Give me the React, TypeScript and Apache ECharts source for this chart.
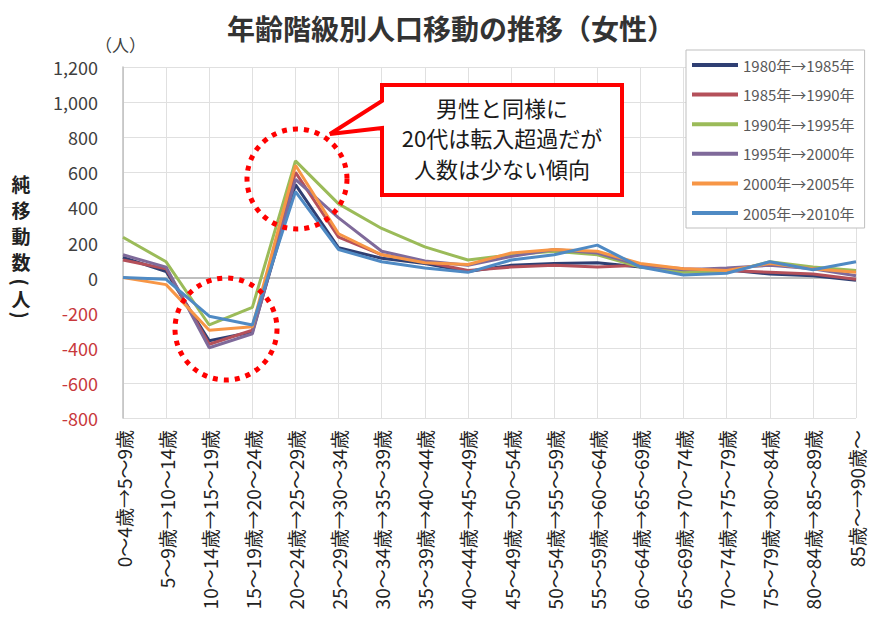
import React, { useEffect, useRef } from "react";
import * as echarts from "echarts";

const categories = [
  "0～4歳→5～9歳",
  "5～9歳→10～14歳",
  "10～14歳→15～19歳",
  "15～19歳→20～24歳",
  "20～24歳→25～29歳",
  "25～29歳→30～34歳",
  "30～34歳→35～39歳",
  "35～39歳→40～44歳",
  "40～44歳→45～49歳",
  "45～49歳→50～54歳",
  "50～54歳→55～59歳",
  "55～59歳→60～64歳",
  "60～64歳→65～69歳",
  "65～69歳→70～74歳",
  "70～74歳→75～79歳",
  "75～79歳→80～84歳",
  "80～84歳→85～89歳",
  "85歳～→90歳～",
];

const seriesNames = [
  "1980年→1985年",
  "1985年→1990年",
  "1990年→1995年",
  "1995年→2000年",
  "2000年→2005年",
  "2005年→2010年",
];

const s1980 = [115, 35, -360, -310, 530, 170, 110, 80, 35, 70, 80, 85, 60, 40, 45, 20, 10, -15];
const s1985 = [100, 50, -380, -300, 600, 230, 130, 90, 40, 60, 70, 60, 70, 50, 40, 30, 20, -10];
const s1990 = [230, 90, -270, -170, 665, 420, 280, 175, 100, 130, 150, 130, 60, 30, 30, 90, 60, 40];
const s1995 = [130, 60, -400, -320, 560, 340, 150, 95, 70, 120, 160, 140, 70, 45, 55, 70, 50, 10];
const s2000 = [0, -40, -300, -280, 640, 250, 130, 85, 75, 140, 160, 150, 80, 50, 40, 80, 50, 30];
const s2005 = [0, -10, -220, -270, 490, 160, 90, 55, 30, 100, 130, 185, 60, 15, 25, 90, 45, 90];

const seriesData = [s1980, s1985, s1990, s1995, s2000, s2005];
const colors = ["#2F3F73", "#B4505A", "#9BBB59", "#7F6A9A", "#F79646", "#4F8AC4"];

const FONT = "'Noto Sans CJK JP', 'Noto Sans', sans-serif";

export default function App() {
  const ref = useRef<HTMLDivElement>(null);

  useEffect(() => {
    document.body.style.margin = "0";
    if (!ref.current) return;
    const chart = echarts.init(ref.current, undefined, { renderer: "svg" });

    const option: any = {
      animation: false,
      backgroundColor: "#ffffff",
      textStyle: { fontFamily: FONT },
      title: {
        text: "年齢階級別人口移動の推移（女性）",
        left: 446,
        top: 9,
        textAlign: "center",
        textStyle: { fontSize: 28, fontWeight: "bold", color: "#333333", fontFamily: FONT },
      },
      grid: { left: 123, right: 13, top: 67, bottom: 212, containLabel: false },
      legend: {
        orient: "vertical",
        left: 686,
        top: 50,
        padding: [7, 10, 7, 6],
        itemGap: 13.6,
        itemWidth: 46,
        itemHeight: 4,
        icon: "rect",
        backgroundColor: "#ffffff",
        borderColor: "#BFBFBF",
        borderWidth: 1,
        textStyle: { fontSize: 15, lineHeight: 16, color: "#595959", fontFamily: FONT },
        data: seriesNames,
      },
      xAxis: {
        type: "category",
        data: categories,
        boundaryGap: false,
        axisLine: { show: true, lineStyle: { color: "#D0D0D0", type: "dotted" } },
        axisTick: { show: false },
        axisLabel: {
          rotate: 90,
          interval: 0,
          margin: 12,
          fontSize: 19,
          color: "#222222",
          fontFamily: FONT,
        },
        splitLine: { show: true, interval: 0, lineStyle: { color: "#E0E0E0", width: 1 } },
      },
      yAxis: {
        type: "value",
        min: -800,
        max: 1200,
        interval: 200,
        axisLine: { show: true, lineStyle: { color: "#BFBFBF", width: 1.5 } },
        axisTick: { show: false },
        splitLine: { show: true, lineStyle: { color: "#E0E0E0", width: 1 } },
        axisLabel: {
          margin: 25,
          fontSize: 18,
          color: "#404040",
          fontFamily: FONT,
          formatter: (v: number) => {
            const s = Math.abs(v).toLocaleString("en-US");
            return v < 0 ? "{neg|-" + s + "}" : s;
          },
          rich: {
            neg: { color: "#C8383C", fontSize: 18, fontFamily: FONT },
          },
        },
      },
      series: seriesData.map((d, i) => ({
        name: seriesNames[i],
        type: "line",
        data: d,
        symbol: "none",
        lineStyle: { width: 3, color: colors[i] },
        itemStyle: { color: colors[i] },
        z: 3,
        markLine:
          i === 0
            ? {
                silent: true,
                symbol: "none",
                label: { show: false },
                lineStyle: { color: "#BFBFBF", width: 2, type: "solid" },
                data: [{ yAxis: 0 }],
                z: 2,
              }
            : undefined,
      })),
      graphic: [
        {
          type: "text",
          left: 95,
          top: 36,
          style: { text: "（人）", fill: "#404040", font: "17px " + FONT },
        },
        ...["純", "移", "動", "数"].map((c, k) => ({
          type: "text",
          x: 21,
          y: 183 + k * 26,
          style: {
            text: c,
            fill: "#222222",
            font: "bold 19px " + FONT,
            lineHeight: 20,
            textAlign: "center",
            textVerticalAlign: "middle",
          },
        })),
        {
          type: "text",
          x: 21,
          y: 282,
          rotation: -Math.PI / 2,
          style: {
            text: "(",
            fill: "#222222",
            font: "bold 19px " + FONT,
            textAlign: "center",
            textVerticalAlign: "middle",
          },
        },
        {
          type: "text",
          x: 21,
          y: 298,
          style: {
            text: "人",
            fill: "#222222",
            font: "bold 19px " + FONT,
            textAlign: "center",
            textVerticalAlign: "middle",
          },
        },
        {
          type: "text",
          x: 21,
          y: 315,
          rotation: -Math.PI / 2,
          style: {
            text: ")",
            fill: "#222222",
            font: "bold 19px " + FONT,
            textAlign: "center",
            textVerticalAlign: "middle",
          },
        },
        {
          type: "circle",
          shape: { cx: 297, cy: 179, r: 50 },
          style: { fill: "none", stroke: "#FF0000", lineWidth: 5, lineDash: [5, 6] },
          z: 10,
        },
        {
          type: "circle",
          shape: { cx: 226, cy: 329, r: 51 },
          style: { fill: "none", stroke: "#FF0000", lineWidth: 5, lineDash: [5, 6] },
          z: 10,
        },
        {
          type: "polygon",
          shape: {
            points: [
              [382, 85],
              [622, 85],
              [622, 195],
              [382, 195],
              [382, 128],
              [330, 134],
              [382, 101],
            ],
          },
          style: { fill: "#ffffff", stroke: "#FF0000", lineWidth: 4 },
          z: 10,
        },
        {
          type: "text",
          x: 502,
          y: 137,
          z: 11,
          style: {
            text: "男性と同様に\n20代は転入超過だが\n人数は少ない傾向",
            font: "22px " + FONT,
            fill: "#1a1a1a",
            textAlign: "center",
            textVerticalAlign: "middle",
            lineHeight: 30.5,
          },
        },
      ],
    };

    chart.setOption(option);
    return () => chart.dispose();
  }, []);

  return <div ref={ref} style={{ width: 869, height: 630 }} />;
}
